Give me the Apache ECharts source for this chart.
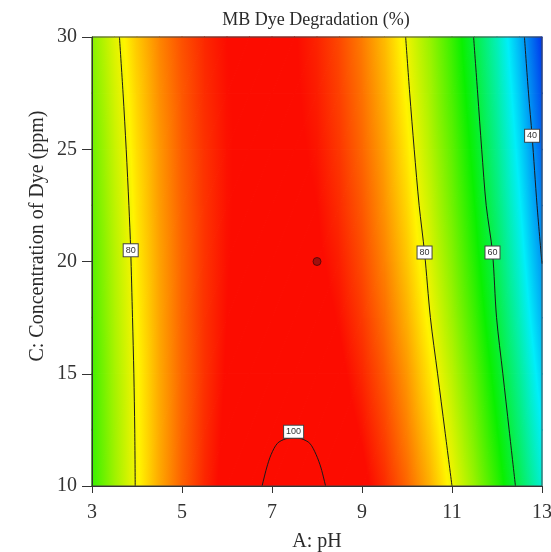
<!DOCTYPE html>
<html>
<head>
<meta charset="utf-8">
<title>MB Dye Degradation</title>
<script src="https://cdn.jsdelivr.net/npm/echarts@6/dist/echarts.min.js"></script>
<style>
  html, body { margin: 0; padding: 0; background: #fff; }
  #chart { width: 551px; height: 552px; }
</style>
</head>
<body>
<div id="chart"></div>
<script>
// 网格坐标
const phLevels = [3, 3.5, 4, 4.5, 5, 5.5, 6, 6.5, 7, 7.5, 8, 8.5, 9, 9.5, 10, 10.5, 11, 11.5, 12, 12.5, 13];
const concLevels = [10, 12.5, 15, 17.5, 20, 22.5, 25, 27.5, 30];
const xTicks = [3, 5, 7, 9, 11, 13];

// 降解率(%)，每行一个浓度，按 phLevels 取值
const deg10   = [67.1, 74.2, 80.5, 85.9, 90.5, 94.3, 97.2, 99.2, 100.5, 100.8, 100.4, 99.1, 97.0, 94.0, 90.2, 85.5, 80.0, 73.7, 66.5, 58.5, 49.6];
const deg12_5 = [67.5, 74.4, 80.6, 85.8, 90.3, 93.9, 96.7, 98.6, 99.7, 99.9, 99.3, 97.9, 95.6, 92.5, 88.5, 83.7, 78.1, 71.6, 64.2, 56.1, 47.1];
const deg15   = [67.9, 74.8, 80.7, 85.9, 90.2, 93.6, 96.3, 98.0, 99.0, 99.1, 98.3, 96.8, 94.3, 91.1, 87.0, 82.0, 76.2, 69.6, 62.1, 53.8, 44.6];
const deg17_5 = [68.7, 75.3, 81.1, 86.1, 90.3, 93.6, 96.0, 97.6, 98.4, 98.3, 97.4, 95.7, 93.1, 89.7, 85.4, 80.3, 74.3, 67.5, 59.9, 51.4, 42.1];
const deg20   = [69.3, 75.8, 81.5, 86.3, 90.3, 93.5, 95.8, 97.3, 97.9, 97.7, 96.6, 94.8, 92.0, 88.4, 84.0, 78.8, 72.7, 65.7, 58.0, 49.3, 39.9];
const deg22_5 = [70.1, 76.4, 82.0, 86.7, 90.5, 93.5, 95.7, 97.0, 97.5, 97.2, 96.0, 93.9, 91.1, 87.3, 82.8, 77.4, 71.1, 64.1, 56.1, 47.4, 37.8];
const deg25   = [70.8, 77.1, 82.5, 87.0, 90.8, 93.6, 95.7, 96.9, 97.2, 96.7, 95.4, 93.2, 90.2, 86.4, 81.7, 76.1, 69.8, 62.6, 54.5, 45.6, 35.9];
const deg27_5 = [71.8, 77.9, 83.1, 87.6, 91.1, 93.9, 95.8, 96.8, 97.0, 96.4, 94.9, 92.6, 89.5, 85.5, 80.6, 75.0, 68.4, 61.1, 52.9, 43.9, 34.0];
const deg30   = [72.8, 78.8, 83.9, 88.2, 91.6, 94.2, 96.0, 96.9, 96.9, 96.2, 94.5, 92.1, 88.8, 84.7, 79.7, 73.9, 67.2, 59.7, 51.4, 42.2, 32.1];
const degRows = [deg10, deg12_5, deg15, deg17_5, deg20, deg22_5, deg25, deg27_5, deg30];

// 等值线 [pH, 浓度]
const contour80Left  = [[3.61, 30], [3.69, 27.5], [3.76, 25], [3.82, 22.5], [3.86, 20.5], [3.9, 17.5], [3.93, 15], [3.95, 12.5], [3.96, 10]];
const contour80Right = [[9.97, 30], [10.06, 27.5], [10.16, 25], [10.27, 22.5], [10.39, 20.4], [10.52, 17.5], [10.68, 15], [10.84, 12.5], [11.0, 10]];
const contour60      = [[11.48, 30], [11.57, 27.5], [11.66, 25], [11.76, 22.5], [11.9, 20.4], [11.99, 17.5], [12.13, 15], [12.27, 12.5], [12.41, 10]];
const contour40      = [[12.61, 30], [12.7, 27.5], [12.78, 25.6], [12.89, 22.5], [13.0, 19.9]];
const contour100     = [[6.78, 10], [6.88, 10.8], [6.98, 11.4], [7.12, 11.9], [7.3, 12.1], [7.48, 12.15], [7.66, 12.1], [7.84, 11.9], [7.98, 11.4], [8.09, 10.8], [8.19, 10]];

// 中心点
const centerPoint = [[8, 20]];

// 色带：蓝-青-绿-黄-红
const rampStops = [
  [31, [0, 40, 235]],
  [47, [0, 238, 250]],
  [64, [10, 240, 0]],
  [81, [255, 244, 0]],
  [96, [252, 12, 0]]
];

function rampColor(v) {
  if (v <= rampStops[0][0]) return 'rgb(' + rampStops[0][1].join(',') + ')';
  for (let i = 1; i < rampStops.length; i++) {
    if (v <= rampStops[i][0]) {
      const a = rampStops[i - 1], b = rampStops[i];
      const t = (v - a[0]) / (b[0] - a[0]);
      const c = a[1].map((ch, k) => Math.round(ch + (b[1][k] - ch) * t));
      return 'rgb(' + c.join(',') + ')';
    }
  }
  return 'rgb(' + rampStops[rampStops.length - 1][1].join(',') + ')';
}

// 单元格 [x0, x1, y0, y1, 左下, 右下, 左上, 右上]
const cells = [];
for (let j = 0; j < concLevels.length - 1; j++) {
  for (let i = 0; i < phLevels.length - 1; i++) {
    cells.push([
      phLevels[i], phLevels[i + 1], concLevels[j], concLevels[j + 1],
      degRows[j][i], degRows[j][i + 1], degRows[j + 1][i], degRows[j + 1][i + 1]
    ]);
  }
}

// 三角形内按线性渐变着色
function shadeTriangle(pts, vals) {
  const p1 = pts[0], p2 = pts[1], p3 = pts[2];
  const v1 = vals[0], v2 = vals[1], v3 = vals[2];
  const ax = p2[0] - p1[0], ay = p2[1] - p1[1];
  const bx = p3[0] - p1[0], by = p3[1] - p1[1];
  const det = ax * by - ay * bx;
  const dv2 = v2 - v1, dv3 = v3 - v1;
  const gx = (dv2 * by - ay * dv3) / det;
  const gy = (ax * dv3 - bx * dv2) / det;
  const g2 = gx * gx + gy * gy;
  const lo = Math.min(v1, v2, v3), hi = Math.max(v1, v2, v3);
  let fill;
  if (hi - lo < 1e-6 || g2 < 1e-12) {
    fill = rampColor(lo);
  } else {
    const sx = p1[0] + gx * (lo - v1) / g2, sy = p1[1] + gy * (lo - v1) / g2;
    const ex = p1[0] + gx * (hi - v1) / g2, ey = p1[1] + gy * (hi - v1) / g2;
    const stops = [{ offset: 0, color: rampColor(lo) }];
    rampStops.forEach((s) => {
      if (s[0] > lo && s[0] < hi) stops.push({ offset: (s[0] - lo) / (hi - lo), color: rampColor(s[0]) });
    });
    stops.push({ offset: 1, color: rampColor(hi) });
    fill = new echarts.graphic.LinearGradient(sx, sy, ex, ey, stops, true);
  }
  return {
    type: 'polygon',
    shape: { points: pts },
    style: { fill: fill, stroke: fill, lineWidth: 1.2, lineJoin: 'round' },
    silent: true
  };
}

function renderCell(params, api) {
  const x0 = api.value(0), x1 = api.value(1), y0 = api.value(2), y1 = api.value(3);
  const va = api.value(4), vb = api.value(5), vc = api.value(6), vd = api.value(7);
  const pa = api.coord([x0, y0]);
  const pb = api.coord([x1, y0]);
  const pc = api.coord([x0, y1]);
  const pd = api.coord([x1, y1]);
  return {
    type: 'group',
    children: [
      shadeTriangle([pa, pb, pd], [va, vb, vd]),
      shadeTriangle([pa, pd, pc], [va, vd, vc])
    ]
  };
}

const boxLabel = {
  show: true,
  position: 'inside',
  fontFamily: 'Liberation Sans',
  fontSize: 9,
  color: '#333',
  backgroundColor: '#fff',
  borderColor: '#444',
  borderWidth: 1,
  padding: [2, 2, 1, 2]
};

function contourSeries(pts, labelIdx, text, offset) {
  return {
    type: 'line',
    smooth: 0.3,
    showSymbol: true,
    symbol: 'circle',
    symbolSize: 0,
    silent: true,
    z: 5,
    lineStyle: { color: '#1a1a1a', width: 1 },
    itemStyle: { color: '#1a1a1a' },
    emphasis: { disabled: true },
    data: pts.map((p, i) => (i === labelIdx
      ? { value: p, label: Object.assign({}, boxLabel, { formatter: text, offset: offset || [0, 0] }) }
      : p))
  };
}

const serif = 'Liberation Serif';
const chart = echarts.init(document.getElementById('chart'));

const option = {
  animation: false,
  backgroundColor: '#fff',
  title: {
    text: 'MB Dye Degradation (%)',
    left: 316,
    top: 11,
    textAlign: 'center',
    padding: 0,
    textStyle: { fontFamily: serif, fontSize: 18, fontWeight: 'normal', color: '#2a2a2a' }
  },
  // 纵轴标题位置略高于轴中点
  graphic: [{
    type: 'text',
    x: 38,
    y: 236,
    rotation: Math.PI / 2,
    silent: true,
    style: {
      text: 'C: Concentration of Dye (ppm)',
      fontFamily: serif,
      fontSize: 20,
      fill: '#2a2a2a',
      align: 'center',
      verticalAlign: 'middle'
    }
  }],
  grid: {
    left: 92, right: 9, top: 37, bottom: 66,
    outerBoundsMode: 'none',
    containLabel: false,
    show: true, borderColor: '#444', borderWidth: 1, backgroundColor: 'transparent', z: 10
  },
  xAxis: {
    type: 'value',
    min: 3,
    max: 13,
    z: 10,
    name: 'A: pH',
    nameLocation: 'middle',
    nameGap: 46,
    nameTextStyle: { fontFamily: serif, fontSize: 20, color: '#2a2a2a' },
    axisLine: { show: true, lineStyle: { color: '#333', width: 1 } },
    axisTick: { show: true, customValues: xTicks, length: 7, lineStyle: { color: '#333' } },
    axisLabel: { customValues: xTicks, margin: 17, fontFamily: serif, fontSize: 20, color: '#333' },
    splitLine: { show: false }
  },
  yAxis: {
    type: 'value',
    min: 10,
    max: 30,
    interval: 5,
    z: 10,
    axisLine: { show: true, lineStyle: { color: '#333', width: 1 } },
    axisTick: { show: true, length: 10, lineStyle: { color: '#333' } },
    axisLabel: { margin: 15, fontFamily: serif, fontSize: 20, color: '#333' },
    splitLine: { show: false }
  },
  series: [
    {
      type: 'custom',
      renderItem: renderCell,
      encode: { x: [0, 1], y: [2, 3] },
      data: cells,
      silent: true,
      z: 1
    },
    contourSeries(contour80Left, 4, '80'),
    contourSeries(contour80Right, 4, '80'),
    contourSeries(contour60, 4, '60'),
    contourSeries(contour40, 2, '40'),
    contourSeries(contour100, 5, '100', [0, -6]),
    {
      type: 'scatter',
      data: centerPoint,
      symbolSize: 8,
      silent: true,
      z: 6,
      itemStyle: { color: '#8a1010', borderColor: '#4a0606', borderWidth: 1 }
    }
  ]
};

chart.setOption(option);
</script>
</body>
</html>
